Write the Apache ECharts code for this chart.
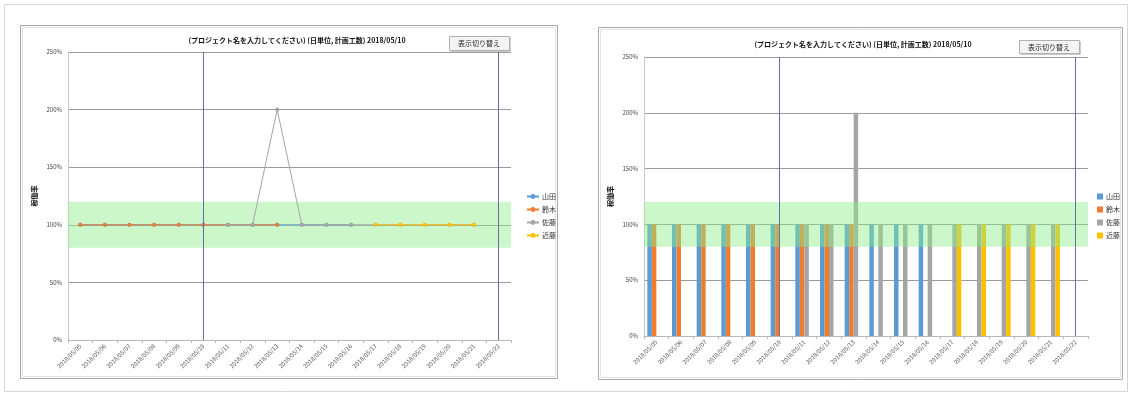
<!DOCTYPE html>
<html>
<head>
<meta charset="utf-8">
<script src="https://cdn.jsdelivr.net/npm/echarts@6/dist/echarts.min.js"></script>
<style>
  html, body { margin: 0; padding: 0; background: #ffffff; }
  #chart { width: 1132px; height: 394px; }
</style>
</head>
<body>
<div id="chart"></div>
<script>
// 日付（カテゴリ）
const dates = [
  '2018/05/05', '2018/05/06', '2018/05/07', '2018/05/08', '2018/05/09', '2018/05/10',
  '2018/05/11', '2018/05/12', '2018/05/13', '2018/05/14', '2018/05/15', '2018/05/16',
  '2018/05/17', '2018/05/18', '2018/05/19', '2018/05/20', '2018/05/21', '2018/05/22'
];
// 担当者ごとの稼働率（%）
const yamada = [100, 100, 100, 100, 100, 100, 100, 100, 100, 100, 100, 100, null, null, null, null, null, null];
const suzuki = [100, 100, 100, 100, 100, 100, 100, 100, 100, null, null, null, null, null, null, null, null, null];
const sato   = [null, null, null, null, null, null, 100, 100, 200, 100, 100, 100, 100, 100, 100, 100, 100, null];
const kondo  = [null, null, null, null, null, null, null, null, null, null, null, null, 100, 100, 100, 100, 100, null];
const members = ['山田', '鈴木', '佐藤', '近藤'];
const memberData = [yamada, suzuki, sato, kondo];
const memberColors = ['#5B9BD5', '#ED7D31', '#A5A5A5', '#FFC000'];
// 適正範囲（%）と縦線を引く日付
const bandRange = [80, 120];
const markDates = ['2018/05/10', '2018/05/22'];
// 縦軸の目盛り
const yMin = 0, yMax = 250, yStep = 50;

const titleText = '(プロジェクト名を入力してください) (日単位, 計画工数) 2018/05/10';
const buttonText = '表示切り替え';
const yName = '稼働率';

const FONT = '"Noto Sans CJK JP", "Noto Sans", sans-serif';

const chart = echarts.init(document.getElementById('chart'), null, { renderer: 'canvas' });

function yAxisFor(gi) {
  return {
    gridIndex: gi, type: 'value', min: yMin, max: yMax, interval: yStep,
    name: yName, nameLocation: 'middle', nameRotate: 90, nameGap: 30,
    nameTextStyle: { fontFamily: FONT, fontSize: 7, fontWeight: 'bold', color: '#111' },
    axisLine: { show: true, lineStyle: { color: '#c8c8c8' } },
    axisTick: { show: false },
    axisLabel: { fontFamily: FONT, fontSize: 6, color: '#444', formatter: '{value}%', margin: 6 },
    splitLine: { lineStyle: { color: '#9a9a9a', width: 1 } }
  };
}
function xAxisFor(gi) {
  return {
    gridIndex: gi, type: 'category', data: dates, boundaryGap: true,
    axisLine: { lineStyle: { color: '#b8b8b8' } },
    axisTick: { show: true, alignWithLabel: false, length: 3, lineStyle: { color: '#b8b8b8' } },
    axisLabel: { fontFamily: FONT, fontSize: 6, color: '#555', rotate: 45, interval: 0, margin: 5 },
    splitLine: { show: false }
  };
}
// 適正範囲の帯と縦線（系列とは別に描く）
function overlaySeries(gi, areaZ) {
  return {
    type: 'line', name: '_band' + gi, xAxisIndex: gi, yAxisIndex: gi, data: [], silent: true,
    markArea: {
      silent: true, z: areaZ,
      itemStyle: { color: 'rgba(140, 238, 140, 0.45)' },
      data: [[{ yAxis: bandRange[0] }, { yAxis: bandRange[1] }]]
    },
    markLine: {
      silent: true, symbol: 'none', label: { show: false }, z: 12,
      lineStyle: { color: '#6a6aa6', width: 1, type: 'solid' },
      data: markDates.map(d => ({ xAxis: d }))
    }
  };
}

const series = [];
// 左：折れ線
members.forEach((m, i) => {
  series.push({
    type: 'line', name: m, xAxisIndex: 0, yAxisIndex: 0, data: memberData[i],
    symbol: 'circle', symbolSize: 4, z: 3,
    lineStyle: { width: 1, color: memberColors[i] },
    itemStyle: { color: memberColors[i] }
  });
});
series.push(overlaySeries(0, 1));
// 右：集合縦棒（帯は棒の上に半透明で重ねる）
members.forEach((m, i) => {
  series.push({
    type: 'bar', name: m, xAxisIndex: 1, yAxisIndex: 1, data: memberData[i],
    barGap: '0%', barCategoryGap: '27%', z: 2,
    itemStyle: { color: memberColors[i] }
  });
});
series.push(overlaySeries(1, 10));

function panelGraphics() {
  const g = [];
  // 外枠
  g.push({ type: 'rect', shape: { x: 4.5, y: 4.5, width: 1123, height: 387 }, style: { fill: 'none', stroke: '#d6d6d6', lineWidth: 1 }, z: -10 });
  // グラフエリア枠
  [[20.5, 25.5, 537, 353], [598.5, 27.5, 524, 352]].forEach(r => {
    g.push({ type: 'rect', shape: { x: r[0], y: r[1], width: r[2], height: r[3] }, style: { fill: 'none', stroke: '#a8a8a8', lineWidth: 1 }, z: -5 });
    g.push({ type: 'rect', shape: { x: r[0] + 2, y: r[1] + 2, width: r[2] - 4, height: r[3] - 4 }, style: { fill: 'none', stroke: '#e2e2e2', lineWidth: 1 }, z: -5 });
  });
  // ボタン
  [[449, 36, 60, 14], [1019, 40, 60, 13]].forEach(b => {
    g.push({ type: 'rect', shape: { x: b[0] + 1.5, y: b[1] + 1.5, width: b[2], height: b[3] }, style: { fill: '#9a9a9a' }, z: 20 });
    g.push({ type: 'rect', shape: { x: b[0] + 0.5, y: b[1] + 0.5, width: b[2], height: b[3] }, style: { fill: '#f4f4f4', stroke: '#b0b0b0', lineWidth: 1 }, z: 21 });
    g.push({ type: 'text', x: b[0] + b[2] / 2, y: b[1] + b[3] / 2 + 0.5, style: { text: buttonText, fontFamily: FONT, fontSize: 7, fill: '#222', align: 'center', verticalAlign: 'middle' }, z: 22 });
  });
  return g;
}

const legendCommon = {
  orient: 'vertical', itemWidth: 12, itemHeight: 6, itemGap: 6,
  textStyle: { fontFamily: FONT, fontSize: 7, color: '#333', padding: [0, 0, 0, -2] }
};

chart.setOption({
  backgroundColor: '#ffffff',
  animation: false,
  title: [
    { text: titleText, left: 292, top: 32, textAlign: 'center', textStyle: { fontFamily: FONT, fontSize: 7, fontWeight: 'bold', color: '#111' } },
    { text: titleText, left: 858, top: 36, textAlign: 'center', textStyle: { fontFamily: FONT, fontSize: 7, fontWeight: 'bold', color: '#111' } }
  ],
  legend: [
    Object.assign({}, legendCommon, { left: 521, top: 188, data: members }),
    Object.assign({}, legendCommon, { left: 1092, top: 188, itemWidth: 6, itemHeight: 6, itemGap: 6, data: members.map(m => ({ name: m, icon: 'rect' })) })
  ],
  grid: [
    { left: 68, right: 1132 - 511, top: 52, bottom: 394 - 340 },
    { left: 644, right: 1132 - 1088, top: 57, bottom: 394 - 336 }
  ],
  xAxis: [xAxisFor(0), xAxisFor(1)],
  yAxis: [yAxisFor(0), yAxisFor(1)],
  series: series,
  graphic: panelGraphics()
});
</script>
</body>
</html>
